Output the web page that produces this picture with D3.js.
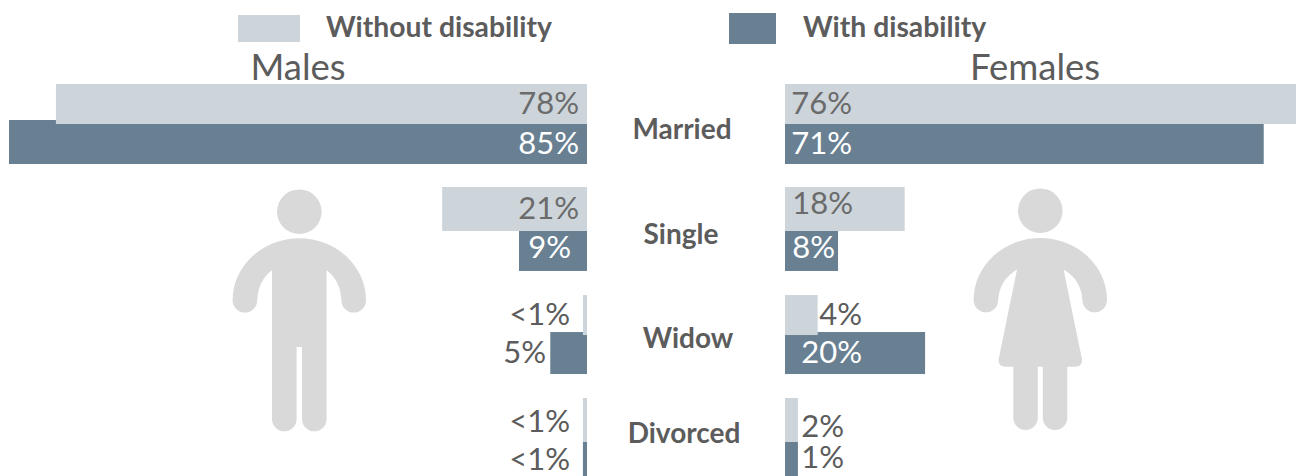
<!DOCTYPE html>
<html><head><meta charset="utf-8">
<script src="https://cdn.jsdelivr.net/npm/d3@7/dist/d3.min.js"></script>
<style>html,body{margin:0;background:#fff;overflow:hidden}svg{display:block}text{font-family:Lato,"Open Sans",sans-serif}</style>
</head><body><svg id="c" width="1296" height="476"></svg>
<script>
const categories = ["Married","Single","Widow","Divorced"];
const seriesNames = ["Without disability","With disability"];
const maleWithout = [78.1, 21.3, 0.6, 0.6];
const maleWith = [85, 10, 5.4, 0.6];
const femaleWithout = [76.5, 17.6, 4.8, 1.9];
const femaleWith = [70.4, 7.8, 20.6, 1.9];
const maleWithoutLabels = ["78%","21%","<1%","<1%"];
const maleWithLabels = ["85%","9%","5%","<1%"];
const femaleWithoutLabels = ["76%","18%","4%","2%"];
const femaleWithLabels = ["71%","8%","20%","1%"];

const LIGHT="#cdd5db", DARK="#688092", ICON="#d9d9d9", TXT="#5c5c5c";
const svg=d3.select("#c");
const row=d3.scaleBand().domain(categories).range([84,478]).paddingInner(0.2357).paddingOuter(0);
const pxPerPct=6.8;
const maleX=d3.scaleLinear().domain([0,100]).range([587,587-100*pxPerPct]);
const femaleX=d3.scaleLinear().domain([0,100]).range([785,785+100*pxPerPct]);
// small per-row offsets of the bar edges relative to the row band
const lightInset=[[0,40],[-1.7,44],[1.7,40],[0,44]];
const darkInset=[[36,44],[42.3,40],[38.7,42],[44,34]];

function bars(values,x,side,color,inset){
  svg.append("g").selectAll("rect").data(values).join("rect")
    .attr("x",d=>side<0?x(d):x(0))
    .attr("width",d=>Math.abs(x(d)-x(0)))
    .attr("y",(d,i)=>row(categories[i])+inset[i][0])
    .attr("height",(d,i)=>inset[i][1])
    .attr("fill",color);
}
bars(maleWith,maleX,-1,DARK,darkInset);
bars(maleWithout,maleX,-1,LIGHT,lightInset);
bars(femaleWith,femaleX,1,DARK,darkInset);
bars(femaleWithout,femaleX,1,LIGHT,lightInset);

const LABEL=31;
function labels(texts,xs,ys,fills){
  svg.append("g").selectAll("text").data(texts).join("text")
    .attr("x",(d,i)=>xs[i]).attr("y",(d,i)=>ys[i])
    .attr("text-anchor","end").attr("font-size",LABEL).attr("fill",(d,i)=>fills[i]).text(d=>d);
}
labels(maleWithoutLabels,[579,579,570,570],[114,219,325,432],["#6b6b6b","#6b6b6b",TXT,TXT]);
labels(maleWithLabels,[579,571,546,570],[154,258,363,470],["#fff","#fff",TXT,TXT]);
labels(femaleWithoutLabels,[852,853,862,844],[114,214,325,437],["#6b6b6b","#6b6b6b",TXT,TXT]);
labels(femaleWithLabels,[852,835,862,844],[154,258,363,468],["#fff","#fff","#fff",TXT]);

// category labels
const catX=[682,681,688,684], catY=[139,243.5,347.5,442.5];
svg.append("g").selectAll("text").data(categories).join("text")
  .attr("x",(d,i)=>catX[i]).attr("y",(d,i)=>catY[i]).attr("text-anchor","middle")
  .attr("font-size",28).attr("font-weight",700).attr("fill",TXT).text(d=>d);

// titles
svg.append("text").attr("x",298).attr("y",80).attr("text-anchor","middle").attr("font-size",36.5).attr("fill",TXT).text("Males");
svg.append("text").attr("x",1035).attr("y",80).attr("text-anchor","middle").attr("font-size",36.5).attr("fill",TXT).text("Females");

// legend
svg.append("rect").attr("x",238).attr("y",15).attr("width",62).attr("height",27).attr("fill",LIGHT);
svg.append("rect").attr("x",729).attr("y",13).attr("width",47).attr("height",31).attr("fill",DARK);
svg.append("text").attr("x",326).attr("y",37).attr("font-size",28.3).attr("font-weight",700).attr("fill",TXT).text(seriesNames[0]);
svg.append("text").attr("x",803).attr("y",37).attr("font-size",28.3).attr("font-weight",700).attr("fill",TXT).text(seriesNames[1]);

// pictograms
const malePath="M-66.7,62A66.7,62 0 0 1 66.7,62A12.3,12.3 0 0 1 42.1,62Q41,42 27.3,32L27.3,180.7A12.3,12.3 0 0 1 2.7,180.7L2.7,108.7L-2.7,108.7L-2.7,180.7A12.3,12.3 0 0 1 -27.3,180.7L-27.3,32Q-41,42 -42.1,62A12.3,12.3 0 0 1 -66.7,62Z";
const femalePath="M-66.7,62A66.7,62 0 0 1 66.7,62A12.3,12.3 0 0 1 42.1,62Q41,42 23.3,31.5L41.6,121Q42.5,128.5 35,128.7L27,128.7L27,180.7A12.3,12.3 0 0 1 2.5,180.7L2.5,128.7L-2.5,128.7L-2.5,180.7A12.3,12.3 0 0 1 -27,180.7L-27,128.7L-35,128.7Q-42.5,128.5 -41.6,121L-23.3,31.5Q-41,42 -42.1,62A12.3,12.3 0 0 1 -66.7,62Z";
function person(cx,top,headY,d){
  const g=svg.append("g").attr("transform",`translate(${cx},${top})`).attr("fill",ICON);
  g.append("circle").attr("cx",0).attr("cy",headY-top).attr("r",22.3);
  g.append("path").attr("d",d);
}
person(299.3,238.3,211.7,malePath);
person(1040.3,238,210.7,femalePath);
</script></body></html>
